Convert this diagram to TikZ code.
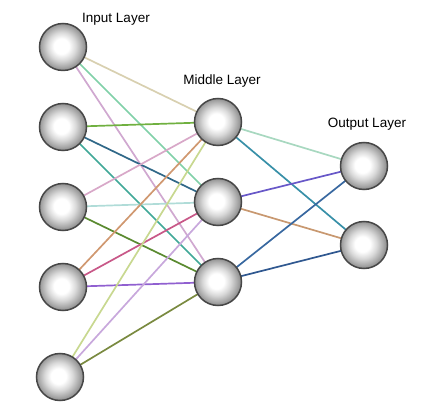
\documentclass[tikz,border=0pt]{standalone}
\usepackage{fontspec}
\setmainfont{Liberation Sans}
\usetikzlibrary{backgrounds}
\pgfdeclareradialshading{ballshade}{\pgfpoint{-2bp}{1bp}}{color(0bp)=(white); color(8bp)=(white); color(15bp)=(black!15); color(21bp)=(black!32); color(27bp)=(black!50); color(32bp)=(black!62); color(36bp)=(black!70); color(50bp)=(black!72)}
\definecolor{cAa}{HTML}{D8D0B0}
\definecolor{cAb}{HTML}{80D0A8}
\definecolor{cAc}{HTML}{D0A8D0}
\definecolor{cBa}{HTML}{70B040}
\definecolor{cBb}{HTML}{306888}
\definecolor{cBc}{HTML}{40A898}
\definecolor{cCa}{HTML}{D8A8C8}
\definecolor{cCb}{HTML}{B0DCD8}
\definecolor{cCc}{HTML}{5A8A30}
\definecolor{cDa}{HTML}{D09870}
\definecolor{cDb}{HTML}{C85888}
\definecolor{cDc}{HTML}{9060D0}
\definecolor{cEa}{HTML}{C8D890}
\definecolor{cEb}{HTML}{C8A8DC}
\definecolor{cEc}{HTML}{7A8A40}
\definecolor{cMa}{HTML}{A8D8C0}
\definecolor{cMb}{HTML}{3890A8}
\definecolor{cMc}{HTML}{6858C8}
\definecolor{cMd}{HTML}{C89870}
\definecolor{cMe}{HTML}{3868A0}
\definecolor{cMf}{HTML}{305890}
\begin{document}
\begin{tikzpicture}[x=1pt,y=-1pt,
  neuron/.style={circle, minimum size=47pt, inner sep=0pt, draw=black!72, line width=1.5pt, shading=ballshade},
  lab/.style={font=\fontsize{13.5}{15}\selectfont, inner sep=0pt},
  link/.style={line width=1.7pt}]
\useasboundingbox (0,0) rectangle (436,419);
\node[neuron] (i1) at (63,47) {};
\node[neuron] (i2) at (63,127) {};
\node[neuron] (i3) at (63,207) {};
\node[neuron] (i4) at (63,287) {};
\node[neuron] (i5) at (60,377) {};
\node[neuron] (m1) at (218,122) {};
\node[neuron] (m2) at (218,202) {};
\node[neuron] (m3) at (218,282) {};
\node[neuron] (o1) at (364,166) {};
\node[neuron] (o2) at (364,245) {};
\node[lab] (li) at (116,19) {Input Layer};
\node[lab] (lm) at (222,81) {Middle Layer};
\node[lab] (lo) at (367,124) {Output Layer};
\begin{pgfonlayer}{background}
\draw[link,cAa] (i1.center) -- (m1.center);
\draw[link,cAb] (i1.center) -- (m2.center);
\draw[link,cAc] (i1.center) -- (m3.center);
\draw[link,cBa] (i2.center) -- (m1.center);
\draw[link,cBb] (i2.center) -- (m2.center);
\draw[link,cBc] (i2.center) -- (m3.center);
\draw[link,cCa] (i3.center) -- (m1.center);
\draw[link,cCb] (i3.center) -- (m2.center);
\draw[link,cCc] (i3.center) -- (m3.center);
\draw[link,cDa] (i4.center) -- (m1.center);
\draw[link,cDb] (i4.center) -- (m2.center);
\draw[link,cDc] (i4.center) -- (m3.center);
\draw[link,cEa] (i5.center) -- (m1.center);
\draw[link,cEb] (i5.center) -- (m2.center);
\draw[link,cEc] (i5.center) -- (m3.center);
\draw[link,cMa] (m1.center) -- (o1.center);
\draw[link,cMb] (m1.center) -- (o2.center);
\draw[link,cMc] (m2.center) -- (o1.center);
\draw[link,cMd] (m2.center) -- (o2.center);
\draw[link,cMe] (m3.center) -- (o1.center);
\draw[link,cMf] (m3.center) -- (o2.center);
\end{pgfonlayer}
\end{tikzpicture}
\end{document}
